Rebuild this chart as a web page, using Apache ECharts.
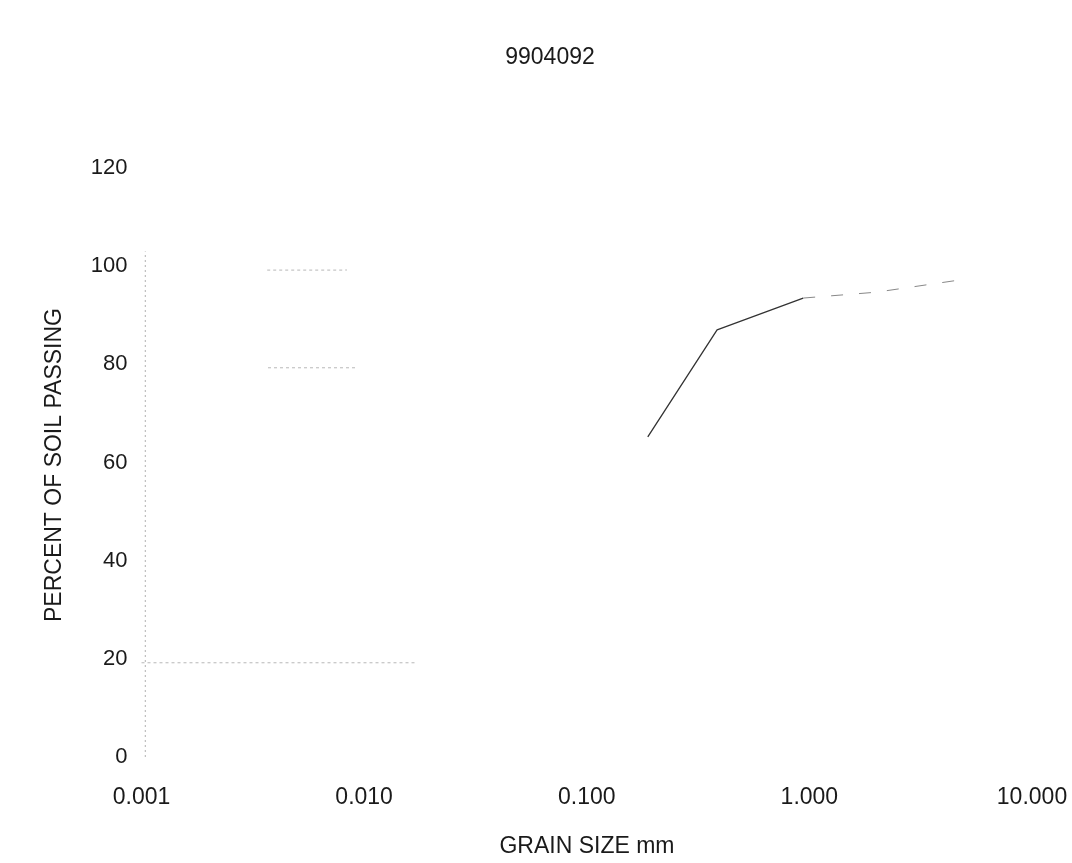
<!DOCTYPE html>
<html>
<head>
<meta charset="utf-8">
<script src="https://cdn.jsdelivr.net/npm/echarts@6/dist/echarts.min.js"></script>
<style>
html,body{margin:0;padding:0;background:#fff;}
#chart{width:1072px;height:863px;}
</style>
</head>
<body>
<div id="chart"></div>
<script>
// Data
const chartTitle = '9904092';
const xAxisTitle = 'GRAIN SIZE mm';
const yAxisTitle = 'PERCENT OF SOIL PASSING';
// solid part of the gradation curve
const grainSize = [0.188, 0.385, 0.938];
const percentPassing = [65.2, 87.0, 93.5];
// faint, broken continuation of the curve
const grainSizeFaint = [0.938, 2.0, 5.1];
const percentPassingFaint = [93.5, 94.7, 97.4];
// faint remnants of grid lines visible in the scan: [xStart, xEnd, y]
const gridRemnantStart = [0.001, 0.00367, 0.0037];
const gridRemnantEnd = [0.0169, 0.00837, 0.0091];
const gridRemnantLevel = [19.2, 99.2, 79.3];
// dotted left axis remnant: from 0 up to this percent
const leftAxisTop = 103;

const solidData = grainSize.map((g, i) => [g, percentPassing[i]]);
const faintData = grainSizeFaint.map((g, i) => [g, percentPassingFaint[i]]);

const remnantSeries = gridRemnantLevel.map((lv, i) => ({
  type: 'line', symbol: 'none', silent: true,
  data: [[gridRemnantStart[i], lv], [gridRemnantEnd[i], lv]],
  lineStyle: { color: '#b8b8b8', width: 1, type: [3, 3] }
}));

const chart = echarts.init(document.getElementById('chart'));
const font = '"Liberation Sans", Arial, sans-serif';
chart.setOption({
  backgroundColor: '#fff',
  animation: false,
  grid: { left: 141.5, right: 40, top: 168, bottom: 106 },
  xAxis: {
    type: 'log', logBase: 10, min: 0.001, max: 10,
    axisLine: { show: false },
    axisTick: { show: false },
    splitLine: { show: false },
    minorTick: { show: false },
    axisLabel: {
      margin: 29, color: '#1a1a1a', fontSize: 23, fontFamily: font,
      formatter: v => Number(v).toFixed(3)
    }
  },
  yAxis: {
    type: 'value', min: 0, max: 120, interval: 20,
    axisLine: { show: false },
    axisTick: { show: false },
    splitLine: { show: false },
    axisLabel: { margin: 14, color: '#1a1a1a', fontSize: 22, fontFamily: font }
  },
  graphic: [
    { type: 'text', x: 550, y: 58, style: { text: chartTitle, fill: '#1a1a1a', font: '23px ' + font, align: 'center', verticalAlign: 'middle' } },
    { type: 'text', x: 587, y: 847, style: { text: xAxisTitle, fill: '#1a1a1a', font: '23px ' + font, align: 'center', verticalAlign: 'middle' } },
    { type: 'text', x: 55, y: 465, rotation: Math.PI / 2, style: { text: yAxisTitle, fill: '#1a1a1a', font: '23px ' + font, align: 'center', verticalAlign: 'middle' } }
  ],
  series: [
    {
      type: 'line', symbol: 'none', silent: true,
      data: [[0.00104, 0], [0.00104, leftAxisTop]],
      lineStyle: { color: '#b0b0b0', width: 1, type: [2, 3] }
    },
    ...remnantSeries,
    {
      type: 'line', data: solidData, symbol: 'none',
      lineStyle: { color: '#333', width: 1.3 }
    },
    {
      type: 'line', data: faintData, symbol: 'none',
      lineStyle: { color: '#888', width: 1, type: [12, 16] }
    }
  ]
});
</script>
</body>
</html>
